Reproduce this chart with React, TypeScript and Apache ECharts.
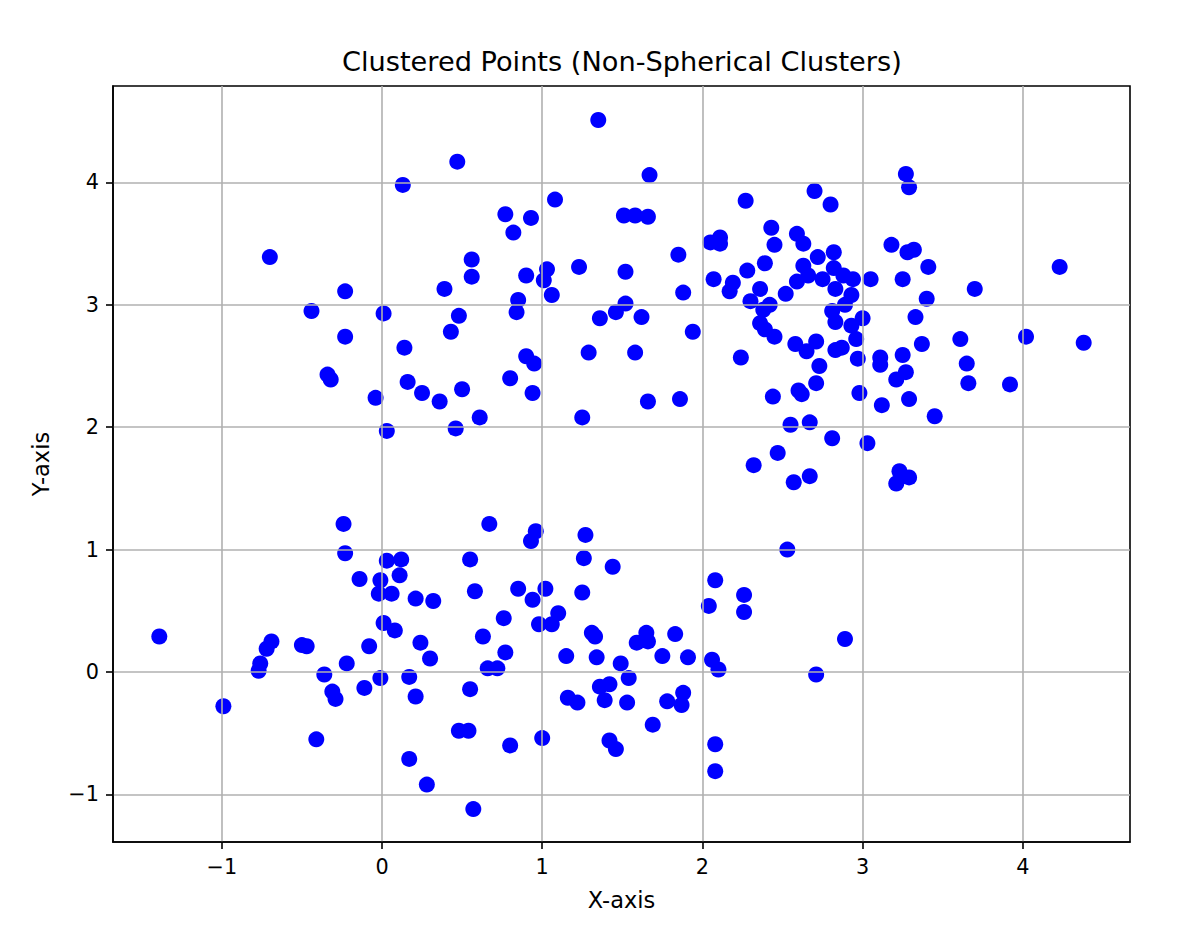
import React, { useEffect, useRef } from "react";
import * as echarts from "echarts";

const upperCluster: [number, number][] = [
  [-0.7, 3.39], [-0.23, 3.11], [-0.44, 2.95], [-0.23, 2.74], [-0.34, 2.43], [-0.32, 2.39],
  [-0.04, 2.24], [0.03, 1.97], [1.35, 4.51], [0.47, 4.17], [0.13, 3.98], [1.08, 3.86],
  [0.77, 3.74], [0.93, 3.71], [0.82, 3.59], [1.51, 3.73], [1.58, 3.73], [1.66, 3.72],
  [1.67, 4.06], [0.56, 3.37], [0.56, 3.23], [0.39, 3.13], [0.9, 3.24], [1.03, 3.29],
  [1.01, 3.2], [1.23, 3.31], [1.52, 3.27], [1.06, 3.08], [0.85, 3.04], [0.84, 2.94],
  [0.01, 2.93], [0.48, 2.91], [0.43, 2.78], [1.36, 2.89], [1.46, 2.94], [1.52, 3.01],
  [1.62, 2.9], [0.14, 2.65], [1.85, 3.41], [1.88, 3.1], [1.94, 2.78], [0.16, 2.37],
  [0.25, 2.28], [0.36, 2.21], [0.5, 2.31], [0.61, 2.08], [0.46, 1.99], [0.8, 2.4],
  [0.9, 2.58], [0.95, 2.52], [0.94, 2.28], [1.29, 2.61], [1.25, 2.08], [1.58, 2.61],
  [1.66, 2.21], [1.86, 2.23], [2.27, 3.85], [2.7, 3.93], [2.8, 3.82], [2.05, 3.51],
  [2.11, 3.55], [2.11, 3.5], [2.43, 3.63], [2.45, 3.49], [2.59, 3.58], [2.63, 3.5],
  [2.82, 3.43], [2.72, 3.39], [2.39, 3.34], [2.28, 3.28], [2.07, 3.21], [2.19, 3.18],
  [2.17, 3.11], [2.63, 3.32], [2.66, 3.24], [2.59, 3.19], [2.75, 3.21], [2.82, 3.3],
  [2.88, 3.24], [2.94, 3.21], [2.83, 3.13], [3.05, 3.21], [2.36, 3.13], [2.52, 3.09],
  [2.3, 3.03], [2.42, 3.0], [2.93, 3.08], [2.89, 3.0], [2.81, 2.95], [2.38, 2.96],
  [2.83, 2.86], [2.36, 2.85], [2.39, 2.8], [2.93, 2.83], [3.0, 2.89], [2.45, 2.74],
  [2.58, 2.68], [2.71, 2.7], [2.65, 2.62], [2.83, 2.63], [2.87, 2.65], [2.96, 2.72],
  [2.97, 2.56], [3.11, 2.57], [3.11, 2.51], [2.24, 2.57], [2.73, 2.5], [2.71, 2.36],
  [2.6, 2.3], [2.62, 2.27], [2.44, 2.25], [2.98, 2.28], [3.12, 2.18], [2.55, 2.02],
  [2.67, 2.04], [2.81, 1.91], [3.03, 1.87], [2.47, 1.79], [2.32, 1.69], [2.67, 1.6],
  [2.57, 1.55], [3.27, 4.07], [3.29, 3.96], [3.18, 3.49], [3.28, 3.43], [3.32, 3.45],
  [3.41, 3.31], [4.23, 3.31], [3.25, 3.21], [3.7, 3.13], [3.4, 3.05], [3.33, 2.9],
  [3.37, 2.68], [3.61, 2.72], [4.02, 2.74], [4.38, 2.69], [3.25, 2.59], [3.27, 2.45],
  [3.21, 2.39], [3.65, 2.52], [3.66, 2.36], [3.92, 2.35], [3.29, 2.23], [3.45, 2.09],
  [3.23, 1.64], [3.29, 1.59], [3.21, 1.54],
];

const lowerCluster: [number, number][] = [
  [-0.24, 1.21], [-0.23, 0.97], [-0.14, 0.76], [0.67, 1.21], [0.96, 1.15], [0.93, 1.07],
  [1.27, 1.12], [1.26, 0.93], [1.44, 0.86], [0.03, 0.91], [0.12, 0.92], [0.11, 0.79],
  [-0.01, 0.75], [0.55, 0.92], [0.58, 0.66], [0.85, 0.68], [1.02, 0.68], [1.25, 0.65],
  [0.06, 0.64], [-0.02, 0.64], [0.21, 0.6], [0.32, 0.58], [0.94, 0.59], [1.1, 0.48],
  [0.98, 0.39], [1.06, 0.39], [0.76, 0.44], [0.01, 0.4], [0.08, 0.34], [-0.08, 0.21],
  [0.24, 0.24], [0.3, 0.11], [0.63, 0.29], [0.77, 0.16], [0.66, 0.03], [0.72, 0.03],
  [-0.01, -0.05], [0.17, -0.04], [0.21, -0.2], [0.55, -0.14], [-0.11, -0.13], [0.48, -0.48],
  [0.54, -0.48], [0.8, -0.6], [1.0, -0.54], [0.17, -0.71], [0.28, -0.92], [0.57, -1.12],
  [1.15, 0.13], [1.34, 0.12], [1.31, 0.32], [1.33, 0.29], [1.49, 0.07], [1.54, -0.05],
  [1.36, -0.12], [1.42, -0.1], [1.39, -0.23], [1.53, -0.25], [1.16, -0.21], [1.22, -0.25],
  [1.42, -0.56], [1.46, -0.63], [2.04, 0.54], [2.26, 0.63], [2.26, 0.49], [2.89, 0.27],
  [2.71, -0.02], [1.65, 0.32], [1.59, 0.24], [1.66, 0.25], [1.83, 0.31], [1.75, 0.13],
  [1.91, 0.12], [2.06, 0.1], [2.1, 0.02], [1.78, -0.24], [1.88, -0.17], [1.87, -0.27],
  [1.69, -0.43], [2.08, -0.59], [2.08, -0.81], [2.08, 0.75], [-1.39, 0.29], [-0.99, -0.28],
  [-0.69, 0.25], [-0.72, 0.19], [-0.76, 0.07], [-0.77, 0.01], [-0.5, 0.22], [-0.47, 0.21],
  [-0.36, -0.02], [-0.22, 0.07], [-0.31, -0.16], [-0.29, -0.22], [-0.41, -0.55], [2.53, 1.0],
];

const xTicks = [-1, 0, 1, 2, 3, 4];
const yTicks = [-1, 0, 1, 2, 3, 4];

const fmt = (v: number) => (v < 0 ? "\u2212" + Math.abs(v) : String(v));
const FONT = "DejaVu Sans";

export default function App() {
  const ref = useRef<HTMLDivElement>(null);
  useEffect(() => {
    if (!ref.current) return;
    const chart = echarts.init(ref.current, null, { renderer: "svg" });
    const axisCommon = {
      type: "value" as const,
      z: 3,
      nameLocation: "middle" as const,
      nameTextStyle: { fontFamily: FONT, fontSize: 22.5, color: "#000" },
      axisLine: { show: true, onZero: false, lineStyle: { color: "#000", width: 1.6 } },
      splitLine: { show: true, lineStyle: { color: "#b0b0b0", width: 1.6 } },
    };
    chart.setOption({
      animation: false,
      backgroundColor: "#ffffff",
      title: {
        text: "Clustered Points (Non-Spherical Clusters)",
        left: 342,
        top: 48,
        padding: 0,
        textStyle: { fontFamily: FONT, fontSize: 27.2, fontWeight: "normal", color: "#000" },
      },
      grid: {
        left: 113, top: 86, width: 1017, height: 756,
        show: true, borderColor: "#000", borderWidth: 1.6, backgroundColor: "transparent",
      },
      xAxis: {
        ...axisCommon,
        min: -1.679, max: 4.669,
        name: "X-axis", nameGap: 46,
        axisTick: { show: true, length: 7, customValues: xTicks, lineStyle: { color: "#000", width: 1.6 } },
        axisLabel: { customValues: xTicks, formatter: fmt, margin: 14, fontSize: 20.8, color: "#000", fontFamily: FONT },
      },
      yAxis: {
        ...axisCommon,
        min: -1.389, max: 4.788,
        name: "Y-axis", nameGap: 61,
        axisTick: { show: true, length: 7, customValues: yTicks, lineStyle: { color: "#000", width: 1.6 } },
        axisLabel: { customValues: yTicks, formatter: fmt, margin: 14, fontSize: 20.8, color: "#000", fontFamily: FONT },
      },
      series: [
        { type: "scatter", data: upperCluster, symbolSize: 16, itemStyle: { color: "#0000ff", opacity: 1 }, z: 1 },
        { type: "scatter", data: lowerCluster, symbolSize: 16, itemStyle: { color: "#0000ff", opacity: 1 }, z: 1 },
      ],
    });
    return () => chart.dispose();
  }, []);
  return <div ref={ref} style={{ position: "fixed", left: 0, top: 0, width: 1200, height: 949 }} />;
}
